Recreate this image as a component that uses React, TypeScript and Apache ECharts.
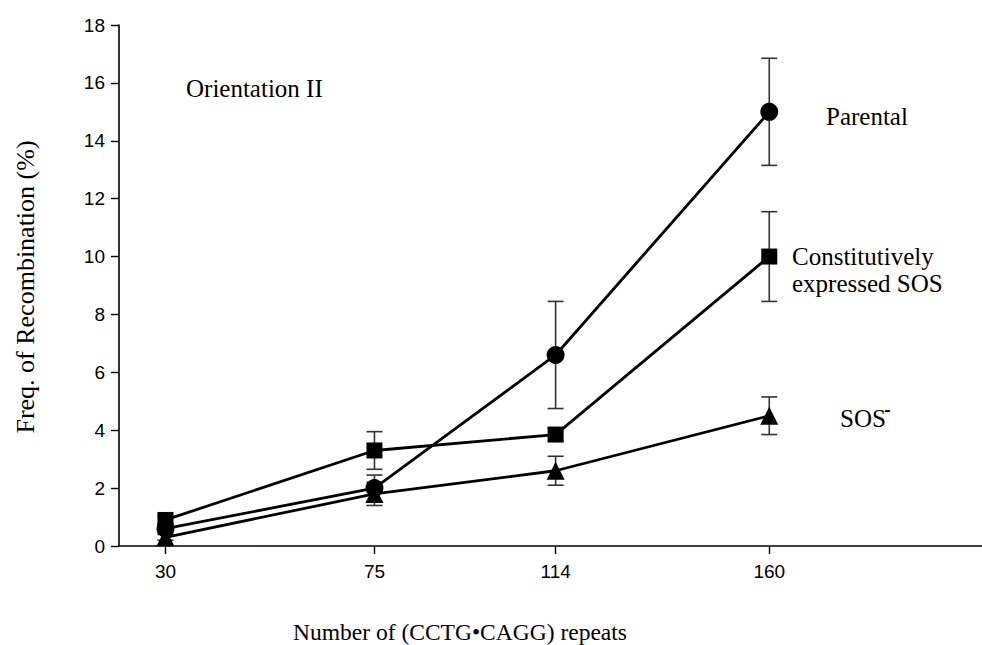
import React, { useEffect, useRef } from "react";
import * as echarts from "echarts";

const repeats = [30, 75, 114, 160];
const parental = [0.6, 2.0, 6.6, 15.0];
const parentalErr = [0.15, 0.45, 1.85, 1.85];
const constitutive = [0.9, 3.3, 3.85, 10.0];
const constitutiveErr = [0.12, 0.65, 0.22, 1.55];
const sosMinus = [0.3, 1.8, 2.6, 4.5];
const sosMinusErr = [0.1, 0.4, 0.5, 0.65];

const SERIF = "'Liberation Serif', 'Times New Roman', serif";
const SANS = "'Liberation Sans', Arial, sans-serif";

function errSeries(vals: number[], errs: number[]) {
  return {
    type: "custom",
    z: 1,
    silent: true,
    data: repeats.map((r, i) => [r, vals[i], errs[i]]),
    encode: { x: 0, y: 1 },
    renderItem: (params: any, api: any) => {
      const x = api.value(0);
      const y = api.value(1);
      const e = api.value(2);
      const top = api.coord([x, y + e]);
      const bot = api.coord([x, y - e]);
      const hw = 8;
      const st = { stroke: "#333", lineWidth: 1.6 };
      return {
        type: "group",
        children: [
          { type: "line", shape: { x1: top[0], y1: top[1], x2: bot[0], y2: bot[1] }, style: st },
          { type: "line", shape: { x1: top[0] - hw, y1: top[1], x2: top[0] + hw, y2: top[1] }, style: st },
          { type: "line", shape: { x1: bot[0] - hw, y1: bot[1], x2: bot[0] + hw, y2: bot[1] }, style: st },
        ],
      };
    },
  };
}

function lineSeries(name: string, vals: number[], symbol: string, size: number) {
  return {
    name,
    type: "line",
    z: 3,
    data: repeats.map((r, i) => [r, vals[i]]),
    symbol,
    symbolSize: size,
    showAllSymbol: true,
    lineStyle: { color: "#000", width: 2.8 },
    itemStyle: { color: "#000" },
  };
}

export default function App() {
  const ref = useRef<HTMLDivElement>(null);
  useEffect(() => {
    if (!ref.current) return;
    const chart = echarts.init(ref.current, undefined, { renderer: "svg" });
    chart.setOption({
      animation: false,
      backgroundColor: "#fff",
      grid: { left: 119, top: 25, right: 0, bottom: 99, containLabel: false },
      xAxis: {
        type: "value",
        min: 20,
        max: 205.8,
        axisLine: { show: true, lineStyle: { color: "#000", width: 1.6 } },
        axisTick: { show: true, length: 8, customValues: repeats, lineStyle: { color: "#000", width: 1.4 } },
        axisLabel: { customValues: repeats, fontSize: 19, fontFamily: SANS, color: "#000", margin: 16 },
        splitLine: { show: false },
      },
      yAxis: {
        type: "value",
        min: 0,
        max: 18,
        interval: 2,
        axisLine: { show: true, lineStyle: { color: "#000", width: 1.6 } },
        axisTick: { show: true, length: 8, lineStyle: { color: "#000", width: 1.4 } },
        axisLabel: { fontSize: 19, fontFamily: SANS, color: "#000", margin: 14 },
        splitLine: { show: false },
      },
      series: [
        errSeries(parental, parentalErr),
        errSeries(constitutive, constitutiveErr),
        errSeries(sosMinus, sosMinusErr),
        lineSeries("Parental", parental, "circle", 18),
        lineSeries("Constitutively expressed SOS", constitutive, "rect", 16),
        lineSeries("SOS-", sosMinus, "triangle", 18),
      ],
      graphic: [
        {
          type: "text",
          rotation: Math.PI / 2,
          x: 25,
          y: 287,
          style: {
            text: "Freq. of Recombination (%)",
            font: `26px ${SERIF}`,
            fill: "#000",
            align: "center",
            verticalAlign: "middle",
          },
        },
        {
          type: "text",
          x: 460,
          y: 632,
          style: { text: "Number of (CCTG\u2022CAGG) repeats", font: `23.5px ${SERIF}`, fill: "#000", align: "center", verticalAlign: "middle" },
        },
        {
          type: "text",
          x: 186,
          y: 88,
          style: { text: "Orientation II", font: `25px ${SERIF}`, fill: "#000", align: "left", verticalAlign: "middle" },
        },
        {
          type: "text",
          x: 826,
          y: 116,
          style: { text: "Parental", font: `25px ${SERIF}`, fill: "#000", align: "left", verticalAlign: "middle" },
        },
        {
          type: "text",
          x: 792,
          y: 256,
          style: { text: "Constitutively", font: `25px ${SERIF}`, fill: "#000", align: "left", verticalAlign: "middle" },
        },
        {
          type: "text",
          x: 792,
          y: 283,
          style: { text: "expressed SOS", font: `25px ${SERIF}`, fill: "#000", align: "left", verticalAlign: "middle" },
        },
        {
          type: "text",
          x: 840,
          y: 418,
          style: { text: "SOS", font: `25px ${SERIF}`, fill: "#000", align: "left", verticalAlign: "middle" },
        },
        {
          type: "text",
          x: 884,
          y: 409,
          style: { text: "-", font: `bold 20px ${SERIF}`, fill: "#000", align: "left", verticalAlign: "middle" },
        },
      ],
    });
    return () => chart.dispose();
  }, []);
  return <div ref={ref} style={{ position: "fixed", left: 0, top: 0, width: 982, height: 645 }} />;
}
